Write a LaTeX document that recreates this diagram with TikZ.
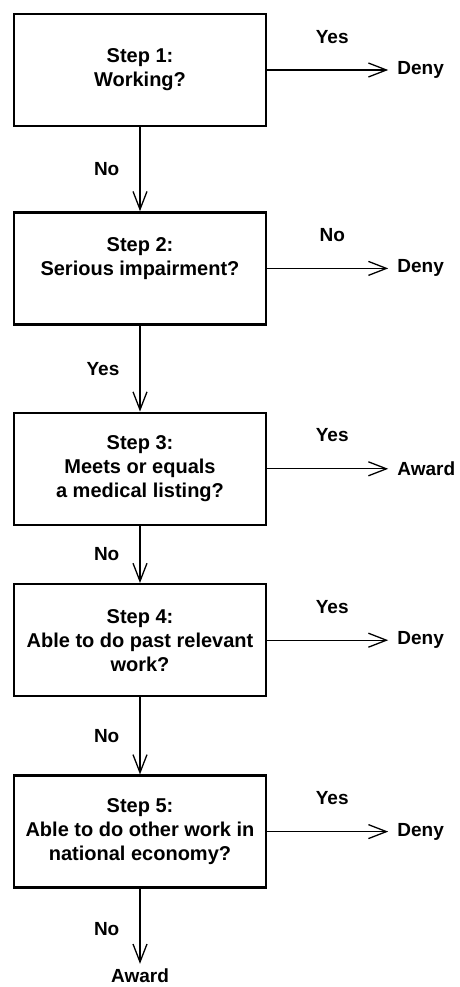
\documentclass[tikz,border=0pt]{standalone}
\usepackage{fontspec}
\setmainfont{Liberation Sans}
\usetikzlibrary{positioning,arrows.meta}

\begin{document}
\begin{tikzpicture}[
  x=1pt, y=-1pt,
  stepbox/.style={
    draw, line width=2.4pt,
    minimum width=252pt, minimum height=112pt,
    font=\bfseries\fontsize{20}{24}\selectfont, align=center
  },
  result/.style={font=\bfseries\fontsize{19}{23}\selectfont, inner sep=0pt},
  ans/.style={font=\bfseries\fontsize{19}{23}\selectfont, inner sep=0pt},
  flow/.style={line width=1.3pt,
    -{Straight Barb[length=18pt, width=14pt, line width=1.3pt]}}
]
\useasboundingbox[fill=white] (0,0) rectangle (459,987);

% --- Steps ---
\node[stepbox] (s1) at (140,70) {Step 1:\\Working?};
\node[stepbox, below=84pt of s1] (s2) {Step 2:\\Serious impairment?\\\mbox{}};
\node[stepbox, below=86pt of s2] (s3) {Step 3:\\Meets or equals\\a medical listing?};
\node[stepbox, below=57pt of s3] (s4) {Step 4:\\Able to do past relevant\\work?};
\node[stepbox, below=77pt of s4] (s5) {Step 5:\\Able to do other work in\\national economy?};

% --- Outcomes on the right ---
\foreach \s/\r/\a in {1/Deny/Yes, 2/Deny/No, 3/Award/Yes, 4/Deny/Yes, 5/Deny/Yes} {
  \node[result, right=130pt of s\s] (r\s) {\r};
  \draw[flow, shorten >=9pt] (s\s) -- (r\s)
    node[ans, midway, above=26pt] {\a};
}

% --- Down the chain ---
\foreach \a/\b/\l in {1/2/No, 2/3/Yes, 3/4/No, 4/5/No} {
  \draw[flow] (s\a) -- (s\b) node[ans, midway, left=20pt] {\l};
}

\node[result, below=80pt of s5] (last) {Award};
\draw[flow, shorten >=5pt] (s5) -- (last) node[ans, midway, left=20pt] {No};
\end{tikzpicture}
\end{document}
